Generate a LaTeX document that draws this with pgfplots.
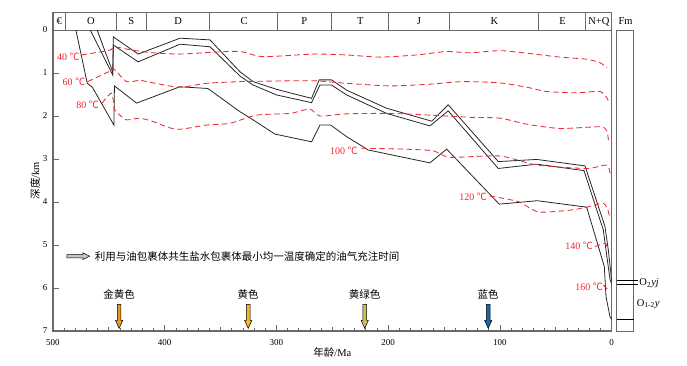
\documentclass[border=0pt]{standalone}
\usepackage{pgfplots}
\pgfplotsset{compat=1.18}
\usepackage{fontspec}
\setmainfont{Liberation Serif}
\newfontfamily\cjk{Noto Sans CJK SC}
\definecolor{iso}{RGB}{238,40,48}
\definecolor{gold}{RGB}{232,152,40}
\definecolor{yel}{RGB}{246,182,40}
\definecolor{ygreen}{RGB}{200,194,90}
\definecolor{blu}{RGB}{28,100,172}
\definecolor{frame}{RGB}{105,105,105}
\pgfdeclareplotmark{downarr}{%
 \pgfpathmoveto{\pgfpoint{-1.8pt}{12pt}}%
 \pgfpathlineto{\pgfpoint{1.8pt}{12pt}}%
 \pgfpathlineto{\pgfpoint{1.8pt}{-4pt}}%
 \pgfpathlineto{\pgfpoint{3.6pt}{-4pt}}%
 \pgfpathlineto{\pgfpoint{0pt}{-12pt}}%
 \pgfpathlineto{\pgfpoint{-3.6pt}{-4pt}}%
 \pgfpathlineto{\pgfpoint{-1.8pt}{-4pt}}%
 \pgfpathclose
 \pgfusepathqfillstroke}
\tikzset{
 isolab/.style={text=iso, inner sep=0pt, font=\fontsize{10}{10}\selectfont},
 arrlab/.style={inner sep=0pt, font=\fontsize{10.5}{10.5}\selectfont\cjk},
 per/.style={font=\fontsize{10.5}{10.5}\selectfont},
}
\pgfplotsset{isol/.style={iso, line width=0.85pt, dash pattern=on 5.5pt off 3.5pt, smooth, tension=0.4}}
\begin{document}
\begin{tikzpicture}
\begin{axis}[
 scale only axis, width=558.7pt, height=318.2pt,
 xmin=0, xmax=500, ymin=-0.4, ymax=7,
 x dir=reverse, y dir=reverse,
 axis line style={frame, line width=1.1pt},
 xtick={0,100,...,500}, minor x tick num=9,
 extra x ticks={50,150,250,350,450}, extra x tick labels={},
 extra x tick style={major tick length=4.5pt},
 major tick length=6pt, minor tick length=3pt,
 ytick={0,...,7},
 xtick pos=bottom, ytick pos=left,
 tick style={frame, line width=0.8pt},
 xticklabel style={font=\fontsize{9}{9}\selectfont, yshift=-5pt},
 yticklabel style={font=\fontsize{9}{9}\selectfont, xshift=-2pt},
 /pgf/number format/assume math mode=true,
 clip=false,
]
% stratigraphic band
\draw[frame, line width=1pt] (axis cs:500,0) -- (axis cs:0,0);
\pgfplotsinvokeforeach{489,443.5,416,359.5,299,250.5,200,145,65.5,23}{
  \draw[frame, line width=1pt] (axis cs:#1,-0.4) -- (axis cs:#1,0);
}
\node[per] at (axis cs:494.5,-0.2) {€};
\node[per] at (axis cs:466,-0.2) {O};
\node[per] at (axis cs:430,-0.2) {S};
\node[per] at (axis cs:388,-0.2) {D};
\node[per] at (axis cs:329,-0.2) {C};
\node[per] at (axis cs:275,-0.2) {P};
\node[per] at (axis cs:225,-0.2) {T};
\node[per] at (axis cs:172.5,-0.2) {J};
\node[per] at (axis cs:105,-0.2) {K};
\node[per] at (axis cs:44,-0.2) {E};
\node[per] at (axis cs:11.5,-0.2) {N+Q};
% Fm column
\draw[frame, line width=1pt] (axis cs:-4.74,0) rectangle (axis cs:-19.96,7);
\draw[black, line width=0.8pt] (axis cs:-4.74,5.83) -- (axis cs:-23.6,5.83);
\draw[black, line width=0.8pt] (axis cs:-4.74,5.91) -- (axis cs:-23.6,5.91);
\draw[black, line width=0.8pt] (axis cs:-4.74,6.73) -- (axis cs:-19.96,6.73);
\node[per] at (axis cs:-12.4,-0.21) {Fm};
\node[anchor=west, inner sep=0pt, font=\fontsize{10.5}{10.5}\selectfont] at (axis cs:-24.7,5.89) {O\textsubscript{2}\textit{yj}};
\node[anchor=west, inner sep=0pt, font=\fontsize{10.5}{10.5}\selectfont] at (axis cs:-22.4,6.37) {O\textsubscript{1-2}\textit{y}};

% burial curves
\addplot[black!85, line width=0.8pt] coordinates {
(460.5,0) (446.5,0.98) (446,0.16) (423.8,0.56) (386.3,0.19) (359.5,0.23) (332.7,0.97) (320.9,1.20) (299.9,1.38) (268.6,1.59) (261.8,1.16) (250.7,1.16) (237.2,1.40) (201.4,1.82) (161.1,2.12) (146.3,1.74) (101.5,3.06) (67.1,3.01) (23.9,3.16) (6.0,4.57) (3.0,5.12) (0,5.83)};
\addplot[black!85, line width=0.8pt] coordinates {
(466.7,0) (446.5,1.05) (446,0.35) (423.8,0.74) (386.3,0.33) (359.5,0.39) (332.7,1.07) (320.9,1.28) (299.9,1.51) (268.6,1.69) (261.1,1.28) (250.7,1.28) (237.2,1.51) (201.4,1.94) (162.7,2.23) (146.3,1.88) (101.5,3.22) (67.1,3.12) (24.8,3.27) (7.5,4.65) (5.1,5.12) (1.5,5.80) (0,5.91)};
\addplot[black!85, line width=0.8pt] coordinates {
(479.5,0) (469.3,1.24) (464.8,1.33) (445.5,2.21) (445,1.30) (425.2,1.70) (386.5,1.32) (361.4,1.36) (332.7,1.90) (320.9,2.09) (301.4,2.42) (268.6,2.60) (261.1,2.21) (251.6,2.21) (237.2,2.48) (217.9,2.79) (162.7,3.09) (147.7,2.77) (100.6,4.05) (66.6,3.97) (22.4,4.12) (6.6,5.50) (5.1,6.20) (1.5,6.67) (0,6.73)};

% isotherms
\addplot[isol] coordinates {
(474.5,0.58) (449.2,0.47) (445.5,0.39) (428.6,0.47) (410.7,0.53) (386.5,0.56) (359.6,0.52) (332.7,0.50) (311.9,0.62) (267.1,0.56) (237.2,0.58) (207.5,0.63) (174.6,0.58) (147.7,0.50) (126.9,0.53) (100,0.48) (76.1,0.54) (46.3,0.63) (22.4,0.68) (10.5,0.76) (4.2,0.88)};
\addplot[isol] coordinates {
(469,1.20) (448.5,0.95) (446,0.89) (434.2,1.20) (422.3,1.17) (410.4,1.23) (386.5,1.33) (362.6,1.24) (332.7,1.20) (311.9,1.19) (267.1,1.18) (237.2,1.24) (198.5,1.30) (162.7,1.26) (132.9,1.20) (100,1.23) (76.1,1.33) (58.2,1.43) (31.3,1.46) (10.5,1.43) (4.2,1.58) (2.4,1.72)};
\addplot[isol] coordinates {
(456,1.70) (447.6,1.47) (444.7,1.86) (440.2,1.98) (434.2,2.09) (422.3,2.05) (410.4,2.13) (389.4,2.31) (362.6,2.21) (341.7,2.17) (317.8,1.98) (288,1.94) (270.1,1.84) (261.1,2.00) (237.2,1.95) (198.5,1.94) (162.7,1.98) (126.9,2.03) (100,2.05) (76.1,2.19) (46.3,2.29) (10.5,2.25) (4.5,2.34) (2.9,2.56)};
\addplot[isol] coordinates {
(224,2.75) (186.6,2.77) (159.7,2.81) (144.8,2.96) (100,2.93) (67.1,3.14) (22.4,3.22) (4.5,3.14) (1.5,3.34)};
\addplot[isol] coordinates {
(109,3.86) (83.6,3.99) (65.7,4.23) (37.3,4.19) (22.4,4.12) (7.5,4.03) (3.0,4.22) (2.1,4.34)};
\addplot[isol] coordinates {(15,5.04) (6,4.96) (3,5.12)};
\addplot[isol] coordinates {(7.5,5.93) (3,6.05)};

\node[isolab] at (axis cs:486.3,0.62) {40 {\cjk ℃}};
\node[isolab] at (axis cs:481.2,1.20) {60 {\cjk ℃}};
\node[isolab] at (axis cs:469.1,1.74) {80 {\cjk ℃}};
\node[isolab] at (axis cs:239.7,2.81) {100 {\cjk ℃}};
\node[isolab] at (axis cs:123.9,3.88) {120 {\cjk ℃}};
\node[isolab] at (axis cs:29.1,5.02) {140 {\cjk ℃}};
\node[isolab] at (axis cs:20.1,5.98) {160 {\cjk ℃}};

% legend
\coordinate (L) at (axis cs:462.6,5.26);
\draw[black, fill=gray!45, line width=0.5pt] ([shift={(-28pt,-1.6pt)}]L) -- ([shift={(-12pt,-1.6pt)}]L) -- ([shift={(-12pt,-3.4pt)}]L) -- ([shift={(-5pt,0pt)}]L) -- ([shift={(-12pt,3.4pt)}]L) -- ([shift={(-12pt,1.6pt)}]L) -- ([shift={(-28pt,1.6pt)}]L) -- cycle;
\node[anchor=west, inner sep=0pt, font=\fontsize{10.5}{10.5}\selectfont\cjk] at (L) {利用与油包裹体共生盐水包裹体最小均一温度确定的油气充注时间};

% charging arrows
\addplot[only marks, mark=downarr, mark options={fill=gold, draw=black, line width=0.5pt}] coordinates {(440.8,6.66)};
\addplot[only marks, mark=downarr, mark options={fill=yel, draw=black, line width=0.5pt}] coordinates {(325.3,6.66)};
\addplot[only marks, mark=downarr, mark options={fill=ygreen, draw=black, line width=0.5pt}] coordinates {(221,6.66)};
\addplot[only marks, mark=downarr, mark options={fill=blu, draw=black, line width=0.5pt}] coordinates {(110.5,6.66)};
\node[arrlab] at (axis cs:440.8,6.16) {金黄色};
\node[arrlab] at (axis cs:325.3,6.16) {黄色};
\node[arrlab] at (axis cs:221,6.16) {黄绿色};
\node[arrlab] at (axis cs:110.5,6.16) {蓝色};

% axis labels
\node[font=\fontsize{10.5}{10.5}\selectfont, inner sep=0pt] at ([yshift=-21pt]axis cs:250,7) {{\cjk 年龄}/Ma};
\node[font=\fontsize{10.5}{10.5}\selectfont, inner sep=0pt, rotate=90] at ([xshift=-18pt]axis cs:500,3.5) {{\cjk 深度}/km};
\coordinate (A) at (axis cs:500,7);
\end{axis}
\pgfresetboundingbox
\path (A) ++(-53pt,-35pt) rectangle ++(687pt,366pt);
\end{tikzpicture}
\end{document}
